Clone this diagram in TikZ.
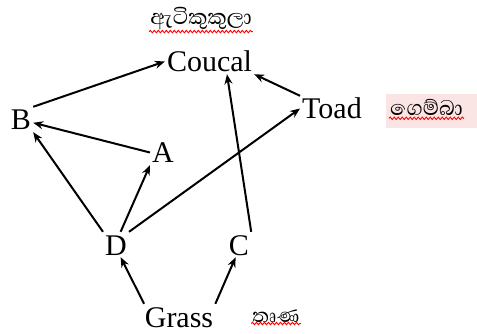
\documentclass[tikz,border=0pt]{standalone}
\usepackage{fontspec}
\setmainfont{Liberation Serif}
\newfontfamily\sinhfont[Script=Sinhala]{Abhaya Libre}
\usetikzlibrary{arrows.meta,decorations.pathmorphing}
\definecolor{pinkbg}{HTML}{FBE4E4}
\begin{document}
\begin{tikzpicture}[x=1pt,y=-1pt,
  lbl/.style={anchor=base,inner sep=2pt,font=\fontsize{30}{32}\selectfont,text height=21pt,text depth=0pt},
  sl/.style={inner sep=1pt,font=\sinhfont\fontsize{27}{29}\selectfont},
  arr/.style={-{Stealth[length=10pt,width=8pt]},line width=2pt},
  wavy/.style={red,line width=0.9pt,decorate,decoration={snake,amplitude=1.2pt,segment length=4pt}}]
\useasboundingbox (0,0) rectangle (477,334);
\fill[pinkbg] (386,94) rectangle (477,128);
\node[lbl] (coucal) at (209.5,72) {Coucal};
\node[lbl] (toad) at (332,119) {Toad};
\node[lbl] (B) at (21,130) {B};
\node[lbl] (A) at (163,163) {A};
\node[lbl] (D) at (116,255) {D};
\node[lbl] (C) at (239,255) {C};
\node[lbl] (grass) at (179,327) {Grass};
\node[sl] (s1) at (201,19) {ඇටිකුකුලා};
\node[sl,anchor=west] (s2) at (389,107) {ගෙම්බා};
\node[sl,font=\sinhfont\fontsize{25}{27}\selectfont] (s3) at (276,316) {තෘණ};
\draw[wavy] (s1.south west) -- (s1.south east);
\draw[wavy] ([yshift=-2pt]s2.south west) -- ([yshift=-2pt]s2.south east);
\draw[wavy] (s3.south west) -- (s3.south east);
\draw[arr] (B.north east) -- (coucal.west);
\draw[arr] (A.west) -- (B.-15);
\draw[arr] (D.north west) -- (B.south east);
\draw[arr] (D.70) -- (A.south west);
\draw[arr] (D.north east) -- (toad.west);
\draw[arr] (C.north east) -- (coucal.-36);
\draw[arr] (toad.north west) -- (coucal.south east);
\draw[arr] (grass.160) -- (D.-70);
\draw[arr] (grass.north east) -- (C.-105);
\end{tikzpicture}
\end{document}
